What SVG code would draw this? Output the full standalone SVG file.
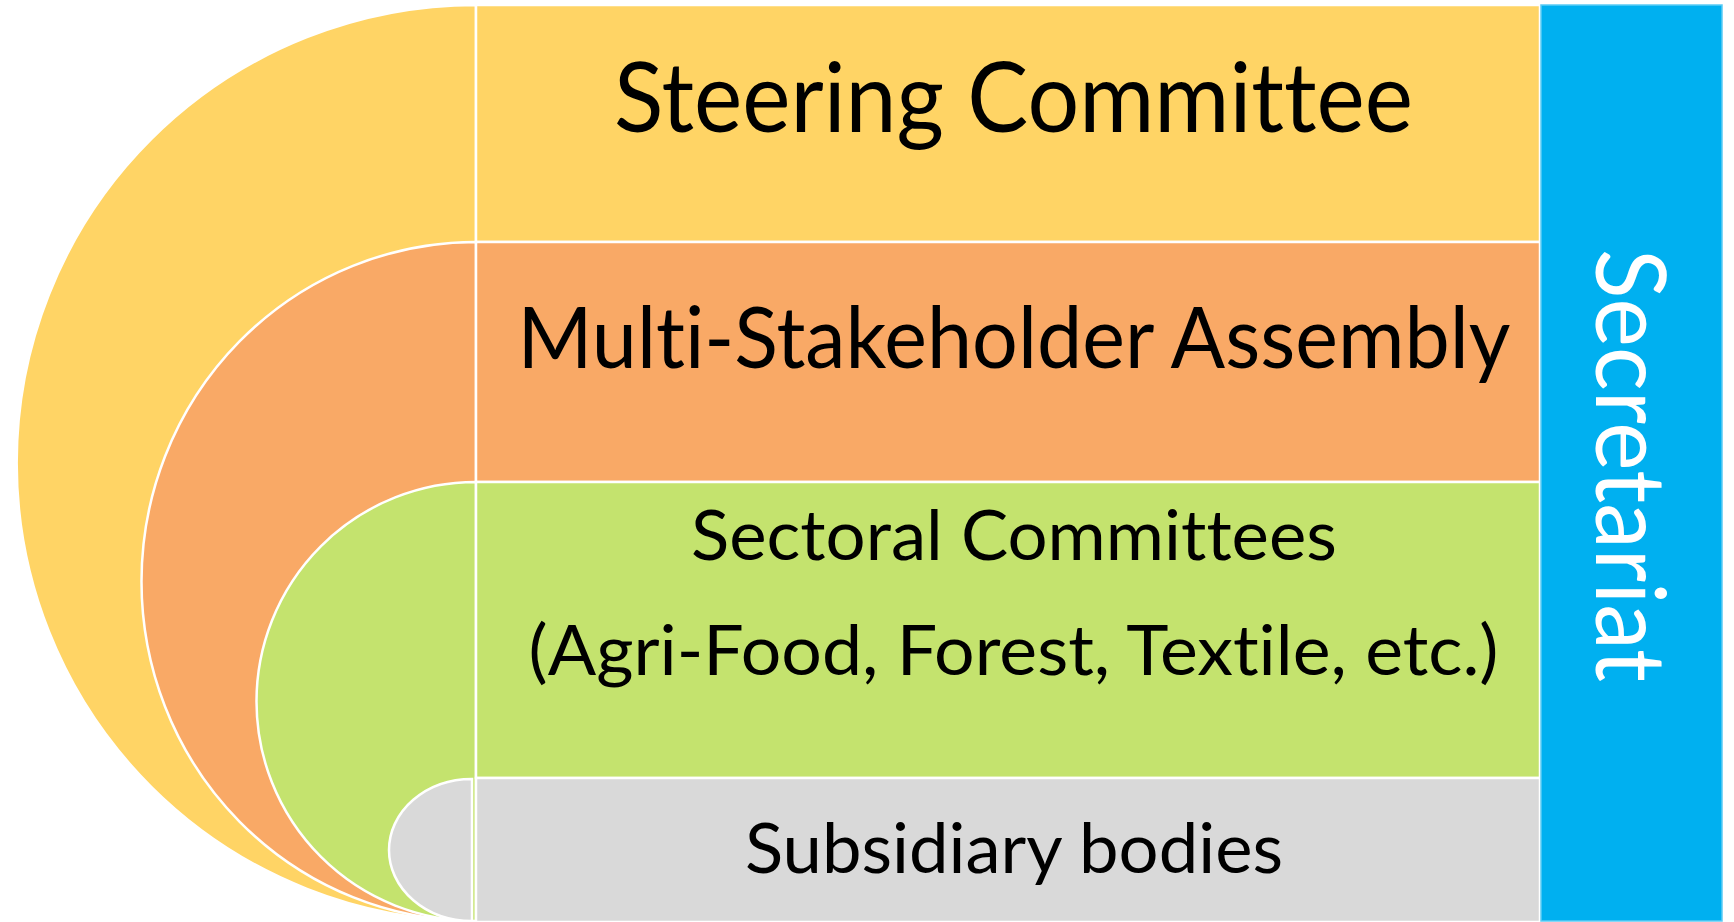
<svg xmlns="http://www.w3.org/2000/svg" width="1734" height="922" viewBox="0 0 1734 922">
<style>
.sh{stroke:#FFFFFF;stroke-width:2.5}
.t{font-family:Lato,"Open Sans","Liberation Sans",sans-serif;fill:#000000;text-anchor:middle;font-variant-ligatures:none;font-feature-settings:"liga" 0,"clig" 0}
.w{fill:#FFFFFF}
</style>
<rect x="0" y="0" width="1734" height="922" fill="#FFFFFF"/>
<g id="arcs">
<path id="arc-steering" class="sh" fill="#FFD465" d="M476,5 A459.5,458 0 0 0 476,921 Z"/>
<path id="arc-assembly" class="sh" fill="#F9A966" d="M476,242 A334.5,339.5 0 0 0 476,921 Z"/>
<path id="arc-sectoral" class="sh" fill="#C4E36E" d="M476,482 A219.5,219.5 0 0 0 476,921 Z"/>
<path id="arc-subsidiary" class="sh" fill="#D9D9D9" d="M472,779 A83,71 0 0 0 472,921 Z"/>
</g>
<g id="steering">
<rect class="sh" x="476" y="5" width="1064" height="237" fill="#FFD465"/>
<text class="t" x="1013.5" y="132" font-size="96" textLength="799" lengthAdjust="spacingAndGlyphs">Steering Committee</text>
</g>
<g id="assembly">
<rect class="sh" x="476" y="242" width="1064" height="240" fill="#F9A966"/>
<text class="t" x="1014" y="368" font-size="86" textLength="993" lengthAdjust="spacingAndGlyphs">Multi-Stakeholder Assembly</text>
</g>
<g id="sectoral">
<rect class="sh" x="476" y="482" width="1064" height="296" fill="#C4E36E"/>
<text class="t" x="1014" y="560" font-size="70" textLength="646" lengthAdjust="spacingAndGlyphs">Sectoral Committees</text>
<text class="t" x="1013.5" y="675" font-size="70" textLength="970" lengthAdjust="spacingAndGlyphs">(Agri-Food, Forest, Textile, etc.)</text>
</g>
<g id="subsidiary">
<rect class="sh" x="476" y="778" width="1064" height="144" fill="#D9D9D9"/>
<text class="t" x="1014" y="873" font-size="70" textLength="538" lengthAdjust="spacingAndGlyphs">Subsidiary bodies</text>
</g>
<g id="secretariat">
<rect x="1541" y="5" width="181" height="916" fill="#00B0F0" stroke="#5BCBF5" stroke-width="1.5"/>
<text class="t w" transform="translate(1596,465.5) rotate(90)" x="0" y="0" font-size="96" textLength="433" lengthAdjust="spacingAndGlyphs">Secretariat</text>
</g>
</svg>
